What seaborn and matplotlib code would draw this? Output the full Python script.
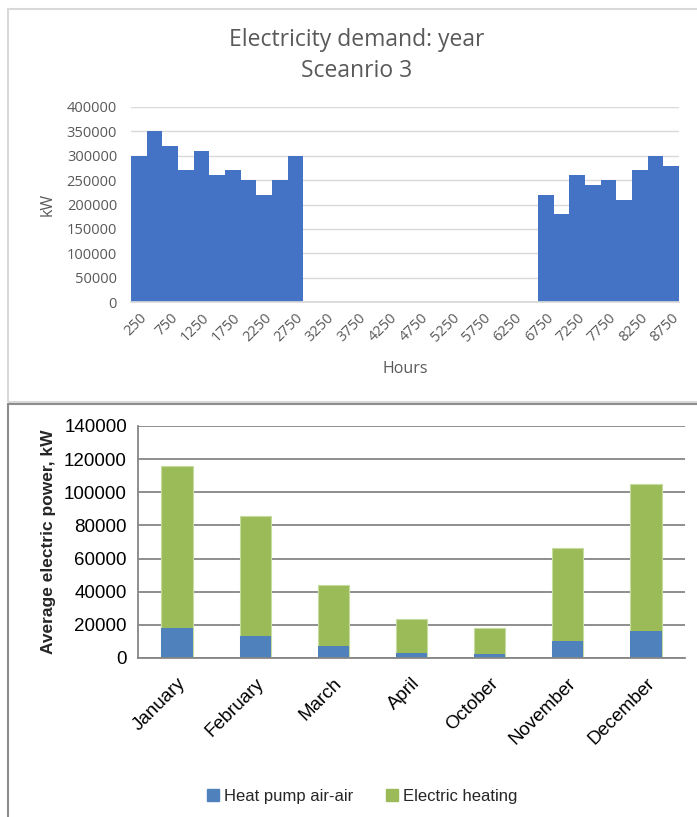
import matplotlib
matplotlib.use("Agg")
import matplotlib.pyplot as plt
from matplotlib.patches import Rectangle, Patch
import pandas as pd
import seaborn as sns

# top chart: hourly demand, scenario 3 (bins of 250 h)
hours = [str(h) for h in range(250, 8751, 250)]
demand = [300000, 350000, 320000, 270000, 310000, 260000, 270000, 250000, 220000, 250000, 300000,
          0, 0, 0, 0, 0, 0, 0, 0, 0, 0, 0, 0, 0, 0,
          0, 220000, 180000, 260000, 240000, 250000, 210000, 270000, 300000, 280000]

# bottom chart: monthly average power
months = ["January", "February", "March", "April", "October", "November", "December"]
heat_pump = [18000, 13000, 7000, 3200, 2600, 10000, 16500]
electric = [98000, 72500, 37000, 20400, 15400, 56500, 88700]

sns.set_theme(style="white")
plt.rcParams['font.family'] = ['Open Sans', 'DejaVu Sans']

W, H = 697, 817
fig = plt.figure(figsize=(W / 100, H / 100), dpi=100)

def box(l, t, r, b):
    return [l / W, 1 - b / H, (r - l) / W, (b - t) / H]

# frames around the two charts
fig.add_artist(Rectangle((8 / W, 1 - 402 / H), (720 - 8) / W, (402 - 9) / H,
                         transform=fig.transFigure, fill=False, edgecolor="#d9d9d9", lw=1.5))
fig.add_artist(Rectangle((8 / W, 1 - 830 / H), (720 - 8) / W, (830 - 404) / H,
                         transform=fig.transFigure, fill=False, edgecolor="#8c8c8c", lw=1.5))

# ---- top chart
ax1 = fig.add_axes(box(131, 107, 679, 302))
df1 = pd.DataFrame({"Hours": hours, "kW": demand})
sns.barplot(data=df1, x="Hours", y="kW", color="#4472C4", width=1.0, saturation=1,
            linewidth=0, ax=ax1)
ax1.set_xlim(-0.5, len(hours) - 0.5)
ax1.set_ylim(0, 400000)
ax1.set_yticks(range(0, 400001, 50000))
ax1.set_yticklabels([str(v) for v in range(0, 400001, 50000)], fontsize=10.5, color="#595959")
ax1.set_xticks(range(0, len(hours), 2))
ax1.set_xticklabels(hours[::2], rotation=45, ha="right", rotation_mode="anchor",
                    fontsize=10.5, color="#595959")
ax1.yaxis.grid(True, color="#d9d9d9", lw=1)
ax1.set_axisbelow(True)
for s in ["top", "right", "left"]:
    ax1.spines[s].set_visible(False)
ax1.spines["bottom"].set_color("#d9d9d9")
ax1.tick_params(axis="y", length=0, pad=10)
ax1.tick_params(axis="x", length=0, pad=6)
ax1.set_xlabel("Hours", fontsize=11.5, color="#595959", labelpad=12)
ax1.set_ylabel("kW", fontsize=11.5, color="#595959", labelpad=8)
fig.text(357 / W, 1 - 40 / H, "Electricity demand: year", ha="center", va="center",
         fontsize=16.5, color="#595959")
fig.text(357 / W, 1 - 71 / H, "Sceanrio 3", ha="center", va="center",
         fontsize=16.5, color="#595959")

# ---- bottom chart
narrow = ['Liberation Sans Narrow', 'Liberation Sans', 'DejaVu Sans']
ax2 = fig.add_axes(box(138, 426, 685, 658))
total = [a + b for a, b in zip(heat_pump, electric)]
df2 = pd.DataFrame({"month": months, "total": total, "hp": heat_pump})
sns.barplot(data=df2, x="month", y="total", color="#9BBB59", width=0.4, saturation=1,
            linewidth=0.8, edgecolor="#c5dba0", ax=ax2)
sns.barplot(data=df2, x="month", y="hp", color="#4F81BD", width=0.4, saturation=1,
            linewidth=0, ax=ax2)
ax2.set_xlim(-0.5, len(months) - 0.5)
ax2.set_ylim(0, 140000)
ax2.set_yticks(range(0, 140001, 20000))
ax2.set_yticklabels([str(v) for v in range(0, 140001, 20000)], fontsize=13.5, color="black",
                    family=narrow)
ax2.set_xticks(range(len(months)))
ax2.set_xticklabels(months, rotation=45, ha="right", rotation_mode="anchor",
                    fontsize=13.5, color="black", family=narrow)
ax2.set_xticks([i - 0.5 for i in range(len(months) + 1)], minor=True)
ax2.tick_params(axis="x", which="major", length=0, pad=12)
ax2.tick_params(axis="x", which="minor", length=5, color="#868686", width=1.2, direction="out")
ax2.tick_params(axis="y", length=5, color="#868686", width=1.2, direction="out", pad=3)
ax2.yaxis.grid(True, color="#868686", lw=1.3)
ax2.set_axisbelow(True)
for s in ["top", "right"]:
    ax2.spines[s].set_visible(False)
for s in ["left", "bottom"]:
    ax2.spines[s].set_color("#868686")
    ax2.spines[s].set_linewidth(1.3)
ax2.set_xlabel("")
ax2.set_ylabel("Average electric power, kW", fontsize=12.5, fontweight="bold",
               family=['Liberation Sans', 'DejaVu Sans'], labelpad=6)

handles = [Patch(color="#4F81BD", label="Heat pump air-air"),
           Patch(color="#9BBB59", label="Electric heating")]
fig.legend(handles=handles, loc="center", bbox_to_anchor=(362 / W, 1 - 796 / H), ncol=2,
           frameon=False, handlelength=0.7, handleheight=0.7, handletextpad=0.3,
           columnspacing=2.0, prop={"family": narrow, "size": 12})

fig.savefig("out.png", dpi=100, facecolor="white")
